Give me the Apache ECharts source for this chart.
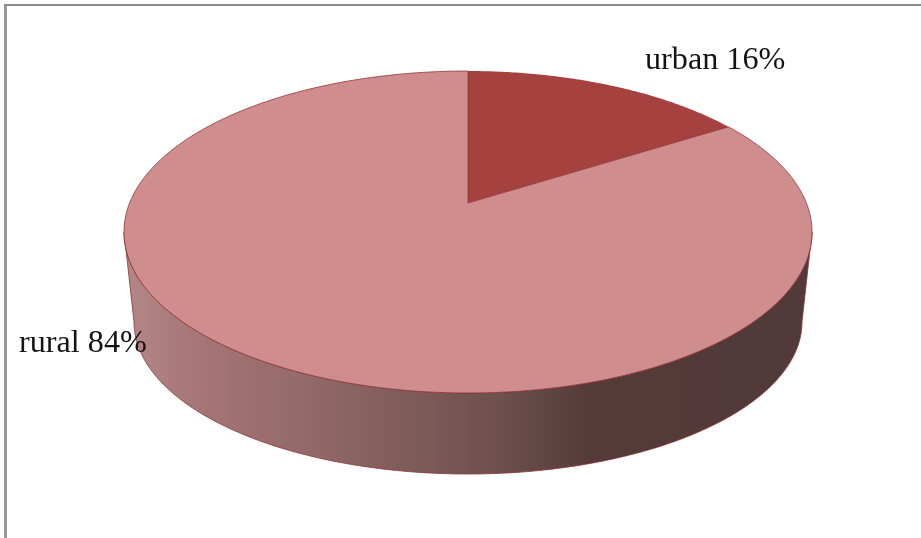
<!DOCTYPE html>
<html>
<head>
<meta charset="utf-8">
<style>html,body{margin:0;padding:0;background:#fff}#c{width:921px;height:538px}</style>
<script src="https://cdn.jsdelivr.net/npm/echarts@6/dist/echarts.min.js"></script>
</head>
<body>
<div id="c"></div>
<script>
const categories = ['urban', 'rural'];
const seriesValues = [16, 84];

const sliceColors = ['#a5423f', '#cf8d8d'];
const edgeColor = '#8e3436';
const labelSpots = [[645, 77], [19, 360]];
const cx = 468, tilt = 0.18;
const topFace = { rx: 344, top: 71, bottom: 393 };
const baseFace = { rx: 334, top: 170, bottom: 474 };

function project(theta, f) {
  const u = Math.sin(theta), v = Math.cos(theta), d = 1 + tilt * v;
  const b = (f.top * (1 + tilt) + f.bottom * (1 - tilt)) / 2;
  const a = (f.top * (1 + tilt) - f.bottom * (1 - tilt)) / 2;
  const w = f.rx * Math.sqrt(1 - tilt * tilt);
  return [cx + w * u / d, (a * v + b) / d];
}
function apex(f) {
  return [cx, (f.top * (1 + tilt) + f.bottom * (1 - tilt)) / 2];
}
function arc(from, to, f) {
  const pts = [], n = Math.max(2, Math.ceil(Math.abs(to - from) / 0.01));
  for (let i = 0; i <= n; i++) pts.push(project(from + (to - from) * i / n, f));
  return pts;
}

const total = seriesValues.reduce((s, v) => s + v, 0);
const rightLimb = Math.acos(-tilt), leftLimb = 2 * Math.PI - rightLimb;

const wallGradient = new echarts.graphic.LinearGradient(0, 0, 1, 0, [
  { offset: 0, color: '#b48788' },
  { offset: 0.11, color: '#a67575' },
  { offset: 0.255, color: '#946a6a' },
  { offset: 0.40, color: '#7f5d5b' },
  { offset: 0.546, color: '#6e504e' },
  { offset: 0.677, color: '#543a39' },
  { offset: 1, color: '#523a3a' }
]);

function renderItem(params, api) {
  const idx = params.dataIndex;
  let before = 0;
  for (let i = 0; i < idx; i++) before += seriesValues[i];
  const start = before / total * 2 * Math.PI;
  const end = (before + api.value(1)) / total * 2 * Math.PI;
  const children = [];

  const wallFrom = Math.max(start, rightLimb), wallTo = Math.min(end, leftLimb);
  if (wallTo > wallFrom) {
    const upper = arc(wallFrom, wallTo, topFace);
    const lower = arc(wallFrom, wallTo, baseFace).reverse();
    children.push({
      type: 'polygon',
      shape: { points: upper.concat(lower) },
      style: { fill: wallGradient, stroke: edgeColor, lineWidth: 0.8, lineJoin: 'round' }
    });
  }
  children.push({
    type: 'polygon',
    shape: { points: [apex(topFace)].concat(arc(start, end, topFace)) },
    style: { fill: sliceColors[idx], stroke: idx === 0 ? sliceColors[0] : edgeColor, lineWidth: idx === 0 ? 0 : 0.8 }
  });
  return { type: 'group', children };
}

function renderLabels(params, api) {
  const idx = params.dataIndex;
  return {
    type: 'text',
    x: labelSpots[idx][0],
    y: labelSpots[idx][1],
    style: {
      text: categories[idx] + ' ' + api.value(1) + '%',
      fill: '#141414',
      font: '32.2px "Liberation Serif"',
      align: 'left',
      verticalAlign: 'bottom'
    }
  };
}

const rows = categories.map((c, i) => [i, seriesValues[i]]);
const chart = echarts.init(document.getElementById('c'), null, { renderer: 'canvas' });
chart.setOption({
  animation: false,
  backgroundColor: '#fff',
  graphic: [
    { type: 'rect', shape: { x: 4, y: 4, width: 3, height: 534 }, style: { fill: '#979797' } },
    { type: 'rect', shape: { x: 4, y: 4, width: 917, height: 2 }, style: { fill: '#8c8c8c' } }
  ],
  series: [
    { type: 'custom', coordinateSystem: 'none', renderItem, data: rows, silent: true, z: 2 },
    { type: 'custom', coordinateSystem: 'none', renderItem: renderLabels, data: rows, silent: true, z: 3 }
  ]
});
</script>
</body>
</html>
